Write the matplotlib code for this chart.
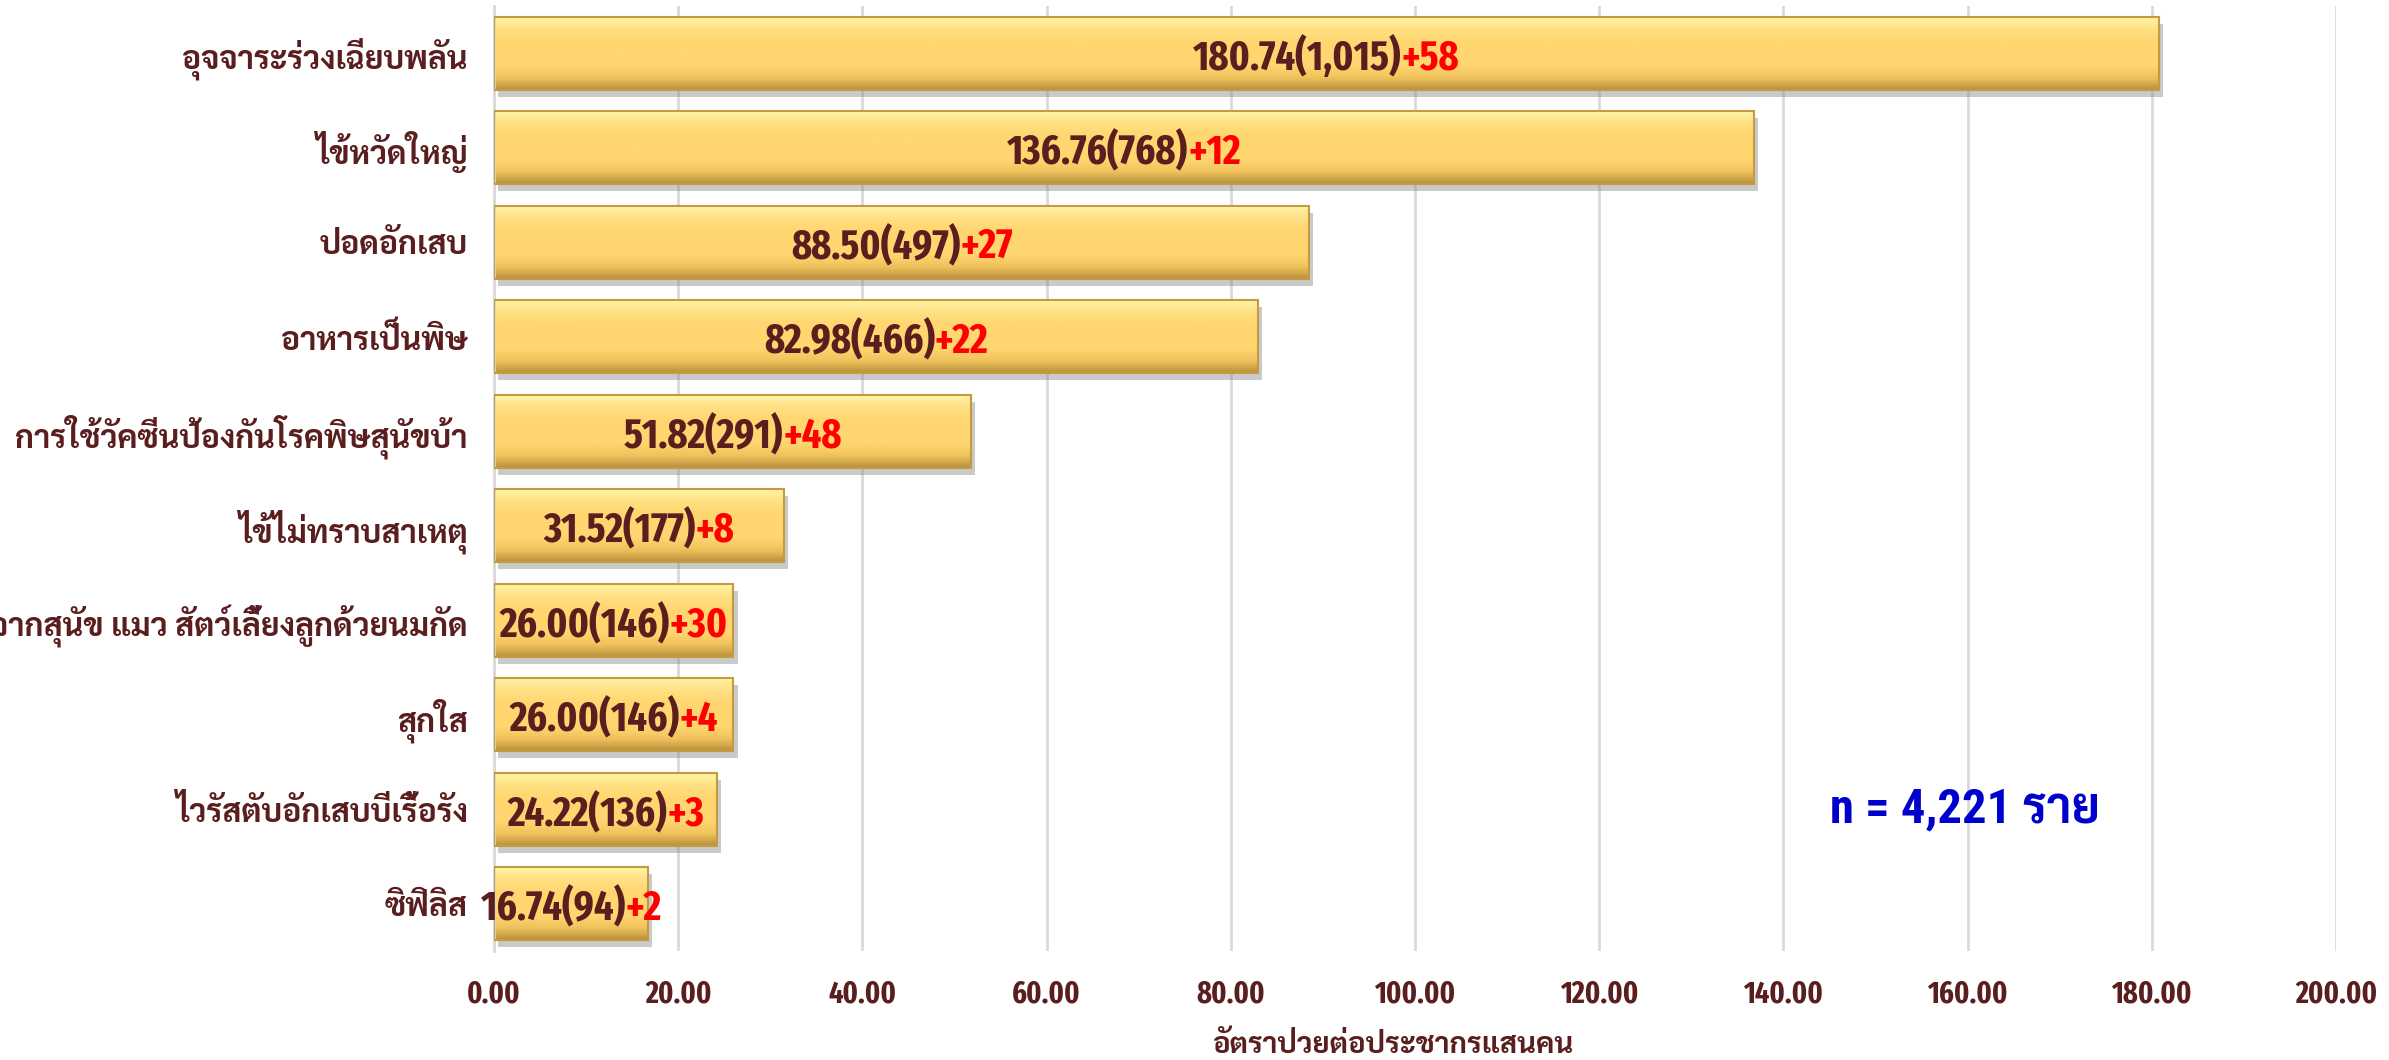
import matplotlib
matplotlib.use("Agg")
import matplotlib.pyplot as plt
import numpy as np
from matplotlib import transforms, patheffects
from matplotlib.colors import LinearSegmentedColormap

# data (top to bottom)
diseases = [
    "อุจจาระร่วงเฉียบพลัน",
    "ไข้หวัดใหญ่",
    "ปอดอักเสบ",
    "อาหารเป็นพิษ",
    "การใช้วัคซีนป้องกันโรคพิษสุนัขบ้า",
    "ไข้ไม่ทราบสาเหตุ",
    "จากสุนัข แมว สัตว์เลี้ยงลูกด้วยนมกัด",
    "สุกใส",
    "ไวรัสตับอักเสบบีเรื้อรัง",
    "ซิฟิลิส",
]
rates = [180.74, 136.76, 88.50, 82.98, 51.82, 31.52, 26.00, 26.00, 24.22, 16.74]
cases = [1015, 768, 497, 466, 291, 177, 146, 146, 136, 94]
added = [58, 12, 27, 22, 48, 8, 30, 4, 3, 2]
xticks = [0, 20, 40, 60, 80, 100, 120, 140, 160, 180, 200]
total_text = "n = 4,221 ราย"
xlabel = "อัตราป่วยต่อประชากรแสนคน"

maroon = "#5A1E1E"
num_font = ['Fira Sans Extra Condensed', 'Carlito', 'Sarabun', 'DejaVu Sans']
thai_font = ['Sarabun', 'DejaVu Sans']
plt.rcParams['font.family'] = num_font
plt.rcParams['font.weight'] = 'bold'

fig = plt.figure(figsize=(23.89, 10.6), dpi=100)
ax = fig.add_axes([0.2068, 0.1028, 0.7710, 0.8915])

y = np.arange(len(diseases))
bars = ax.barh(y, rates, height=0.77, color="#FFD670", linewidth=0, zorder=2)
for b in bars:
    b.set_path_effects([patheffects.SimplePatchShadow(offset=(3, -5), shadow_rgbFace="#8a8a8a", alpha=0.45),
                        patheffects.Normal()])

# vertical gradient inside each bar to mimic the bevel
grad = np.linspace(0, 1, 200).reshape(-1, 1)
gold = LinearSegmentedColormap.from_list("gold", ["#FFF4A8", "#FFE083", "#FFD670", "#FFD670",
                                                  "#FFD670", "#F0C25C", "#B8913D"])
for b in bars:
    x0, y0, w, h = b.get_x(), b.get_y(), b.get_width(), b.get_height()
    im = ax.imshow(grad, extent=[x0, x0 + w, y0 + h, y0], aspect="auto", cmap=gold,
                   interpolation="bicubic", zorder=2.5)
    im.set_clip_path(b)
ax.barh(y, rates, height=0.77, fill=False, edgecolor="#C59B40", linewidth=1.5, zorder=3)

ax.set_xlim(0, 200)
ax.set_ylim(len(diseases) - 0.5, -0.5)
ax.set_xticks(xticks)
ax.set_xticklabels([f"{v:.2f}" for v in xticks], color=maroon, fontsize=22)
ax.set_yticks(y)
ax.set_yticklabels(diseases, color=maroon, fontsize=23, family=thai_font)
ax.tick_params(axis="both", length=0)
ax.tick_params(axis="y", pad=19)
ax.tick_params(axis="x", pad=20)
ax.xaxis.grid(True, color="#D9D9D9", linewidth=2)
ax.set_axisbelow(True)
for s in ["top", "right", "bottom"]:
    ax.spines[s].set_visible(False)
ax.spines["left"].set_color("#D9D9D9")
ax.spines["left"].set_linewidth(2)
ax.set_xlabel(xlabel, color=maroon, fontsize=21, family=thai_font, fontweight="bold", va="center")
ax.xaxis.set_label_coords(0.4886, -0.0995)

# two-colour value labels centred on each bar
fig.canvas.draw()
renderer = fig.canvas.get_renderer()
for yi, r, c, a in zip(y, rates, cases, added):
    main = f"{r:.2f}({c:,})"
    extra = f"+{a}"
    t1 = ax.text(r / 2, yi, main, color=maroon, fontsize=30, ha="left", va="center_baseline", zorder=5)
    t2 = ax.text(r / 2, yi, extra, color="#FF0000", fontsize=30, ha="left", va="center_baseline", zorder=5)
    w1 = t1.get_window_extent(renderer).width
    w2 = t2.get_window_extent(renderer).width
    t1.set_transform(transforms.offset_copy(ax.transData, fig=fig, x=-(w1 + w2) / 2, units="dots"))
    t2.set_transform(transforms.offset_copy(ax.transData, fig=fig, x=-(w1 + w2) / 2 + w1, units="dots"))

ax.text(159.7, 8, total_text, color="#0000CC", fontsize=35, ha="center", va="center",
        family=["Liberation Sans Narrow", "Roboto Condensed", "Sarabun"])

fig.savefig("out.png", dpi=100)
